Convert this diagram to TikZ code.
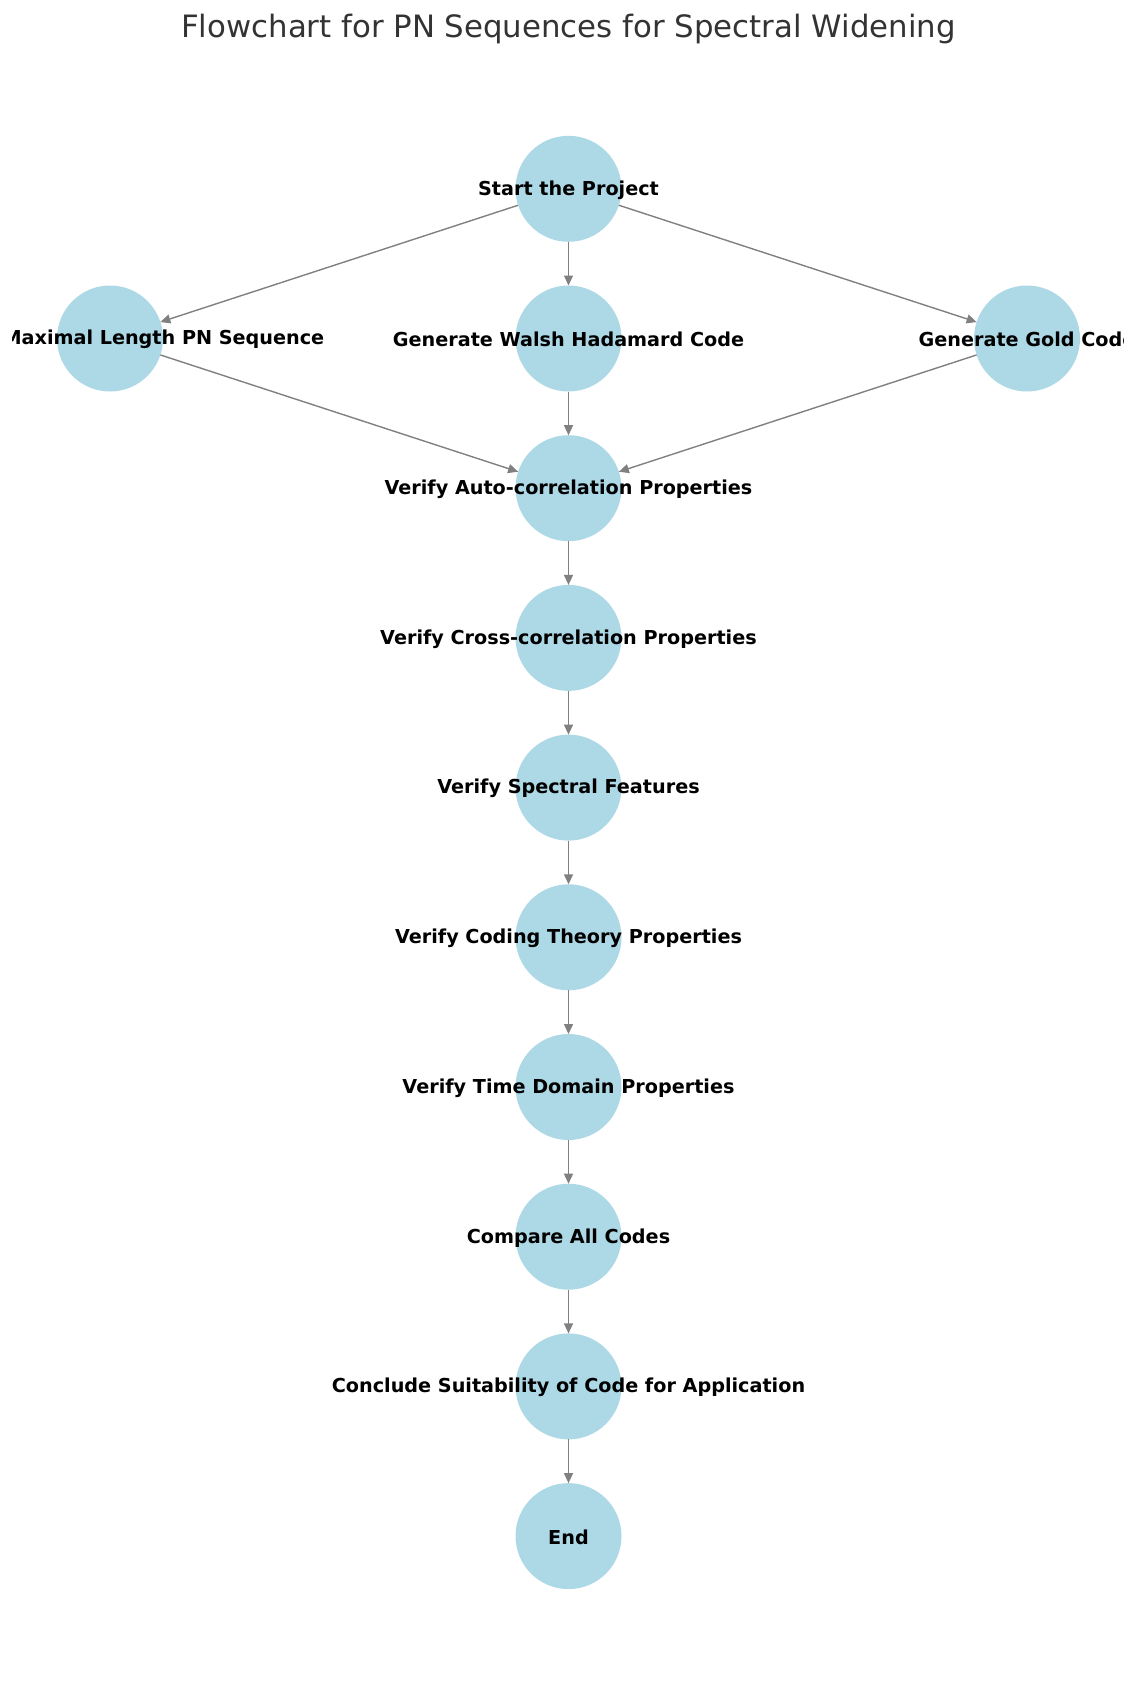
\documentclass[tikz,border=0pt]{standalone}
\usepackage{fontspec}
\setmainfont{DejaVu Sans}
\usetikzlibrary{arrows.meta}
\definecolor{nodeblue}{HTML}{ADD8E6}
\definecolor{edgegray}{HTML}{808080}
\definecolor{titlegray}{HTML}{333333}
\tikzset{
  pnode/.style={circle, fill=nodeblue, draw=none, minimum size=106pt, inner sep=0pt, outer sep=0pt},
  plabel/.style={font=\fontsize{19.2pt}{23pt}\selectfont\bfseries, text=black, inner sep=0pt, yshift=-1pt},
  pedge/.style={draw=edgegray, line width=1.4pt, -{Triangle[length=10pt,width=9pt]}},
}
\begin{document}
\begin{tikzpicture}[x=1pt,y=-1pt]
\useasboundingbox (0,0) rectangle (1137,1691);
\clip (0,0) rectangle (1137,1691);
\node[font=\fontsize{30.8pt}{36pt}\selectfont, text=titlegray, inner sep=0pt] (title) at (568.5,29) {Flowchart for PN Sequences for Spectral Widening};
% circles
\node[pnode] (start) at (568.5,188.8) {};
\node[pnode] (maxl) at (110,338.5) {};
\node[pnode] (walsh) at (568.5,338.5) {};
\node[pnode] (gold) at (1027,338.5) {};
\node[pnode] (auto) at (568.5,488.2) {};
\node[pnode] (cross) at (568.5,637.9) {};
\node[pnode] (spec) at (568.5,787.6) {};
\node[pnode] (coding) at (568.5,937.3) {};
\node[pnode] (time) at (568.5,1087) {};
\node[pnode] (comp) at (568.5,1236.7) {};
\node[pnode] (concl) at (568.5,1386.4) {};
\node[pnode] (endn) at (568.5,1536.1) {};
% edges
\draw[pedge] (start) -- (maxl);
\draw[pedge] (start) -- (walsh);
\draw[pedge] (start) -- (gold);
\draw[pedge] (maxl) -- (auto);
\draw[pedge] (walsh) -- (auto);
\draw[pedge] (gold) -- (auto);
\draw[pedge] (auto) -- (cross);
\draw[pedge] (cross) -- (spec);
\draw[pedge] (spec) -- (coding);
\draw[pedge] (coding) -- (time);
\draw[pedge] (time) -- (comp);
\draw[pedge] (comp) -- (concl);
\draw[pedge] (concl) -- (endn);
% labels (clipped to the plot area)
\begin{scope}
\clip (12,60) rectangle (1123,1640);
\node[plabel] (lstart) at (start) {Start the Project};
\node[plabel] (lmaxl) at (maxl) {Generate Maximal Length PN Sequence};
\node[plabel] (lwalsh) at (walsh) {Generate Walsh Hadamard Code};
\node[plabel] (lgold) at (gold) {Generate Gold Code};
\node[plabel] (lauto) at (auto) {Verify Auto-correlation Properties};
\node[plabel] (lcross) at (cross) {Verify Cross-correlation Properties};
\node[plabel] (lspec) at (spec) {Verify Spectral Features};
\node[plabel] (lcoding) at (coding) {Verify Coding Theory Properties};
\node[plabel] (ltime) at (time) {Verify Time Domain Properties};
\node[plabel] (lcomp) at (comp) {Compare All Codes};
\node[plabel] (lconcl) at (concl) {Conclude Suitability of Code for Application};
\node[plabel] (lend) at (endn) {End};
\end{scope}
\end{tikzpicture}
\end{document}
